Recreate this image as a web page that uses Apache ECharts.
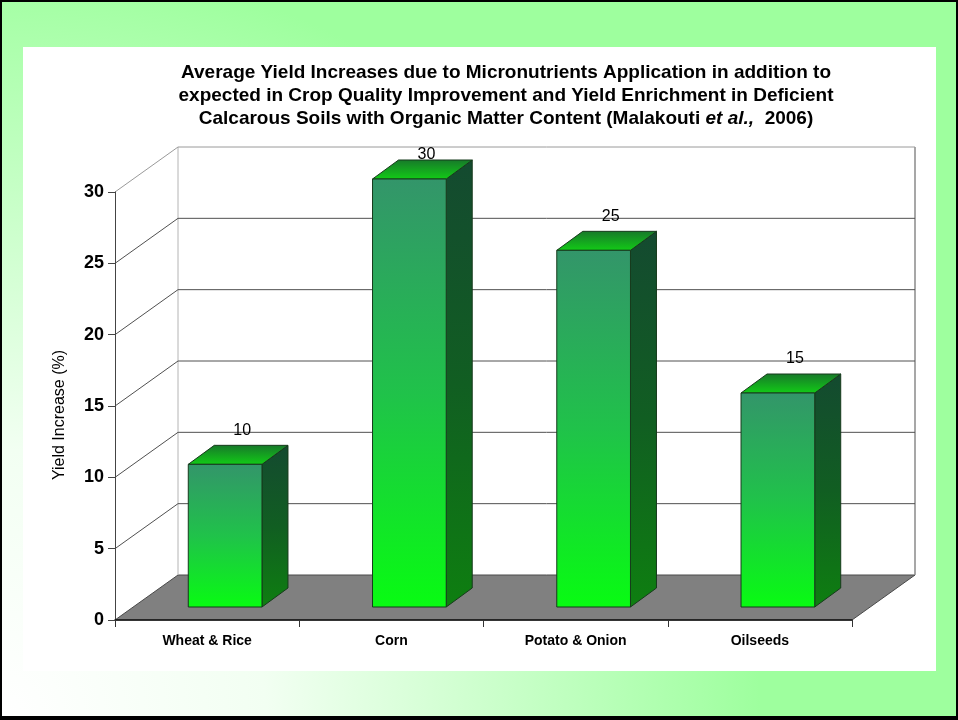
<!DOCTYPE html>
<html>
<head>
<meta charset="utf-8">
<script src="https://cdn.jsdelivr.net/npm/echarts@6/dist/echarts.min.js"></script>
<style>
  html, body { margin: 0; padding: 0; background: #000; }
  #chart { width: 958px; height: 720px; }
</style>
</head>
<body>
<div id="chart"></div>
<script>
// data
const crops = ["Wheat & Rice", "Corn", "Potato & Onion", "Oilseeds"];
const yieldIncrease = [10, 30, 25, 15];
const yTicks = [0, 5, 10, 15, 20, 25, 30];

// fake 3d depth of the plot box and the bars inside it
const DX = 63, DY = -45;
const BAR_OX = 18, BAR_OY = -13;
const BAR_DX = 26, BAR_DY = -19;
const BAR_RATIO = 0.4;
const FONT = "'Liberation Sans', Arial, sans-serif";

const chart = echarts.init(document.getElementById("chart"));

function renderFrame(params, api) {
    const cs = params.coordSys;
    const v = api.value(1);
    const y = api.coord([0, v])[1];
    const x0 = cs.x, x1 = cs.x + cs.width;
    const children = [];
    if (v === 0) {
        // floor
        children.push({
            type: "polygon",
            shape: { points: [[x0, y], [x1, y], [x1 + DX, y + DY], [x0 + DX, y + DY]] },
            style: { fill: "#808080", stroke: "#4a4a4a", lineWidth: 1 }
        });
        const yTop = cs.y + DY;
        children.push({
            type: "line",
            shape: { x1: x0 + DX, y1: y + DY, x2: x0 + DX, y2: yTop },
            style: { stroke: "#b4b4b4", lineWidth: 1 }
        });
        children.push({
            type: "line",
            shape: { x1: x1 + DX, y1: y + DY, x2: x1 + DX, y2: yTop },
            style: { stroke: "#8a8a8a", lineWidth: 1.5 }
        });
    } else {
        children.push({
            type: "polyline",
            shape: { points: [[x0, y], [x0 + DX, y + DY], [x1 + DX, y + DY]] },
            style: { stroke: v === 30 ? "#9a9a9a" : "#505050", lineWidth: 1, fill: null }
        });
    }
    return { type: "group", children: children };
}

function renderBar(params, api) {
    const cs = params.coordSys;
    const i = api.value(0), v = api.value(1);
    const base = api.coord([i, 0]);
    const top = api.coord([i, v]);
    const bw = api.size([1, 0])[0] * BAR_RATIO;
    const cx = base[0] + BAR_OX;
    const x0 = cx - bw / 2, x1 = cx + bw / 2;
    const yb = base[1] + BAR_OY, yt = top[1] + BAR_OY;
    const edge = { stroke: "#173a1c", lineWidth: 1 };
    // the value label sits above the bar, but never above the back wall top
    const labelY = Math.max(yt + BAR_DY - 7, cs.y + DY + 16);
    return {
        type: "group",
        children: [
            {
                type: "polygon",
                shape: { points: [[x1, yb], [x1 + BAR_DX, yb + BAR_DY], [x1 + BAR_DX, yt + BAR_DY], [x1, yt]] },
                style: Object.assign({
                    fill: new echarts.graphic.LinearGradient(0, 0, 0, 1, [
                        { offset: 0, color: "#144a30" },
                        { offset: 0.5, color: "#115e22" },
                        { offset: 1, color: "#0e7f10" }
                    ])
                }, edge)
            },
            {
                type: "polygon",
                shape: { points: [[x0, yt], [x1, yt], [x1 + BAR_DX, yt + BAR_DY], [x0 + BAR_DX, yt + BAR_DY]] },
                style: Object.assign({
                    fill: new echarts.graphic.LinearGradient(0, 0, 0, 1, [
                        { offset: 0, color: "#17782a" },
                        { offset: 1, color: "#12cc16" }
                    ])
                }, edge)
            },
            {
                type: "rect",
                shape: { x: x0, y: yt, width: bw, height: yb - yt },
                style: Object.assign({
                    fill: new echarts.graphic.LinearGradient(0, 0, 0, 1, [
                        { offset: 0, color: "#33956a" },
                        { offset: 0.5, color: "#20c24a" },
                        { offset: 1, color: "#08fc12" }
                    ])
                }, edge)
            },
            {
                type: "text",
                style: {
                    text: String(v),
                    x: cx + 17,
                    y: labelY,
                    align: "center",
                    verticalAlign: "bottom",
                    font: "16px " + FONT,
                    fill: "#000"
                }
            }
        ]
    };
}

const option = {
    animation: false,
    backgroundColor: "#000",
    graphic: [
        {
            type: "rect",
            shape: { x: 2, y: 2, width: 954, height: 714 },
            style: {
                fill: {
                    type: "radial", x: 0, y: 716, r: 760, global: true,
                    colorStops: [
                        { offset: 0, color: "#ffffff" },
                        { offset: 0.35, color: "#f2fff2" },
                        { offset: 1, color: "#9eff9e" }
                    ]
                }
            },
            z: -10
        },
        {
            type: "rect",
            shape: { x: 23, y: 47, width: 913, height: 624 },
            style: { fill: "#ffffff" },
            z: -9
        }
    ],
    title: {
        text: "Average Yield Increases due to Micronutrients Application in addition to\n" +
              "expected in Crop Quality Improvement and Yield Enrichment in Deficient\n" +
              "Calcarous Soils with Organic Matter Content (Malakouti {i|et al.,}  2006)",
        left: 501,
        top: 56,
        textAlign: "center",
        textStyle: {
            fontFamily: FONT,
            fontSize: 19,
            fontWeight: "bold",
            color: "#000",
            lineHeight: 23,
            rich: {
                i: {
                    fontFamily: FONT,
                    fontSize: 19,
                    fontWeight: "bold",
                    fontStyle: "italic",
                    color: "#000",
                    lineHeight: 23
                }
            }
        }
    },
    grid: {
        left: 115,
        right: 106,
        top: 192,
        bottom: 100
    },
    xAxis: {
        type: "category",
        data: crops,
        z: 5,
        axisLine: { show: true, lineStyle: { color: "#111", width: 1.5 } },
        axisTick: { show: true, length: 7, lineStyle: { color: "#333" } },
        axisLabel: {
            margin: 14,
            color: "#000",
            fontFamily: FONT,
            fontSize: 14,
            fontWeight: "bold"
        },
        splitLine: { show: false }
    },
    yAxis: {
        type: "value",
        min: 0,
        max: 30,
        interval: 5,
        z: 5,
        name: "Yield Increase (%)",
        nameLocation: "middle",
        nameGap: 47,
        nameTextStyle: {
            color: "#000",
            fontFamily: FONT,
            fontSize: 16,
            padding: [0, 18, 0, 0]
        },
        axisLine: { show: true, lineStyle: { color: "#444", width: 1 } },
        axisTick: { show: true, length: 7, lineStyle: { color: "#444" } },
        axisLabel: {
            margin: 11,
            color: "#000",
            fontFamily: FONT,
            fontSize: 18,
            fontWeight: "bold"
        },
        splitLine: { show: false }
    },
    series: [
        {
            type: "custom",
            z: 1,
            silent: true,
            renderItem: renderFrame,
            data: yTicks.map(function (v) { return [0, v]; })
        },
        {
            type: "custom",
            z: 2,
            renderItem: renderBar,
            data: yieldIncrease.map(function (v, i) { return [i, v]; })
        }
    ]
};

chart.setOption(option);
</script>
</body>
</html>
